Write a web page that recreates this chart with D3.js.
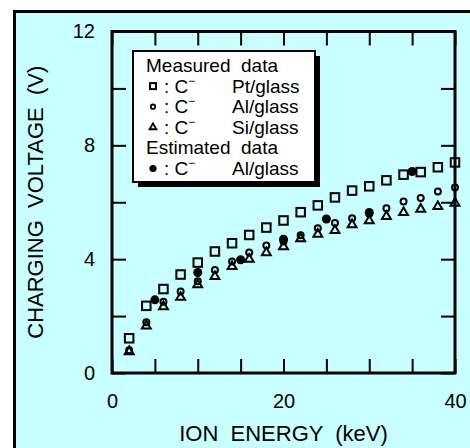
<!DOCTYPE html>
<html>
<head>
<meta charset="utf-8">
<script src="https://cdn.jsdelivr.net/npm/d3@7"></script>
<style>
  body { margin: 0; background: #fff; }
  svg { display: block; }
</style>
</head>
<body>
<div id="chart"></div>
<script>
// measured points share the same energies
const energy = [2, 4, 6, 8, 10, 12, 14, 16, 18, 20, 22, 24, 26, 28, 30, 32, 34, 36, 38, 40];
const ptGlass = [1.22, 2.36, 2.95, 3.46, 3.88, 4.27, 4.56, 4.85, 5.11, 5.36, 5.65, 5.89, 6.17, 6.41, 6.56, 6.77, 6.97, 7.06, 7.23, 7.40];
const alGlass = [0.80, 1.78, 2.50, 2.86, 3.22, 3.62, 3.92, 4.23, 4.48, 4.62, 4.84, 5.09, 5.27, 5.44, 5.60, 5.79, 6.03, 6.15, 6.38, 6.52];
const siGlass = [0.75, 1.65, 2.33, 2.66, 3.10, 3.39, 3.74, 4.00, 4.23, 4.44, 4.72, 4.88, 5.01, 5.21, 5.35, 5.50, 5.64, 5.76, 5.85, 5.97];
// estimated data (Al/glass)
const estEnergy = [5, 10, 15, 20, 25, 30, 35];
const estAl = [2.57, 3.53, 3.98, 4.70, 5.41, 5.64, 7.08];

const xTicks = [0, 5, 10, 15, 20, 25, 30, 35, 40];
const xLabels = [0, 20, 40];
const yTicks = [0, 2, 4, 6, 8, 10, 12];
const yLabels = [0, 4, 8, 12];

const width = 470, height = 448;
const margin = {top: 31.5, right: 15, bottom: 75, left: 112};
const font = "'Liberation Sans', Arial, Helvetica, sans-serif";

const svg = d3.select("#chart").append("svg")
    .attr("width", width)
    .attr("height", height)
    .attr("font-family", font);

// cyan panel with black frame on top and left
svg.append("rect")
    .attr("x", 14.5).attr("y", 11.5)
    .attr("width", width).attr("height", height)
    .attr("fill", "#c8ffff")
    .attr("stroke", "#000")
    .attr("stroke-width", 3);

const x = d3.scaleLinear().domain([0, 40]).range([margin.left, width - margin.right]);
const y = d3.scaleLinear().domain([0, 12]).range([height - margin.bottom, margin.top]);

const tickLen = 14;
function styleAxis(g) {
  g.select(".domain").remove();
  g.selectAll(".tick line").attr("stroke", "#000").attr("stroke-width", 2);
  g.selectAll(".tick text").attr("fill", "#000").attr("font-size", 20).attr("font-family", font);
}

svg.append("g")
    .attr("transform", `translate(0,${y(0)})`)
    .call(d3.axisBottom(x).tickValues(xTicks).tickSize(-tickLen).tickPadding(21)
      .tickFormat(d => xLabels.includes(d) ? d : ""))
    .call(styleAxis);

svg.append("g")
    .attr("transform", `translate(0,${y(12)})`)
    .call(d3.axisTop(x).tickValues(xTicks).tickSize(-tickLen).tickFormat(""))
    .call(styleAxis);

svg.append("g")
    .attr("transform", `translate(${x(0)},0)`)
    .call(d3.axisLeft(y).tickValues(yTicks).tickSize(-tickLen).tickPadding(17)
      .tickFormat(d => yLabels.includes(d) ? d : ""))
    .call(styleAxis);

svg.append("g")
    .attr("transform", `translate(${x(40)},0)`)
    .call(d3.axisRight(y).tickValues(yTicks).tickSize(-tickLen).tickFormat(""))
    .call(styleAxis);

// plot frame
svg.append("rect")
    .attr("x", x(0)).attr("y", y(12))
    .attr("width", x(40) - x(0)).attr("height", y(0) - y(12))
    .attr("fill", "none")
    .attr("stroke", "#000")
    .attr("stroke-width", 3);

// axis titles
svg.append("text")
    .attr("x", (x(0) + x(40)) / 2)
    .attr("y", 441)
    .attr("text-anchor", "middle")
    .attr("font-size", 22)
    .attr("xml:space", "preserve")
    .text("ION  ENERGY  (keV)");

svg.append("text")
    .attr("transform", `translate(43,${(y(0) + y(12)) / 2}) rotate(-90)`)
    .attr("text-anchor", "middle")
    .attr("font-size", 22)
    .attr("xml:space", "preserve")
    .text("CHARGING  VOLTAGE  (V)");

// marks
const pts = (xs, ys) => xs.map((d, i) => [d, ys[i]]);
const sq = 8.5;
const marks = svg.append("g")
    .attr("stroke", "#000")
    .attr("stroke-width", 2);

marks.selectAll(".tri")
  .data(pts(energy, siGlass))
  .join("path")
    .attr("fill", "none")
    .attr("d", d3.symbol(d3.symbolTriangle, 34))
    .attr("transform", d => `translate(${x(d[0])},${y(d[1])})`);

marks.selectAll(".circ")
  .data(pts(energy, alGlass))
  .join("circle")
    .attr("fill", "none")
    .attr("cx", d => x(d[0]))
    .attr("cy", d => y(d[1]))
    .attr("r", 3);

marks.selectAll(".sq")
  .data(pts(energy, ptGlass))
  .join("rect")
    .attr("fill", "none")
    .attr("x", d => x(d[0]) - sq / 2)
    .attr("y", d => y(d[1]) - sq / 2)
    .attr("width", sq)
    .attr("height", sq);

marks.selectAll(".est")
  .data(pts(estEnergy, estAl))
  .join("circle")
    .attr("fill", "#000")
    .attr("stroke", "none")
    .attr("cx", d => x(d[0]))
    .attr("cy", d => y(d[1]))
    .attr("r", 4.5);

// legend
const legendRows = [
  {head: "Measured  data"},
  {sym: "square", label: "Pt/glass"},
  {sym: "circle", label: "Al/glass"},
  {sym: "triangle", label: "Si/glass"},
  {head: "Estimated  data"},
  {sym: "filled", label: "Al/glass"}
];

const lg = svg.append("g");
lg.append("rect")
    .attr("x", 138).attr("y", 56)
    .attr("width", 182).attr("height", 131)
    .attr("fill", "#000");
lg.append("rect")
    .attr("x", 133).attr("y", 51)
    .attr("width", 182).attr("height", 131)
    .attr("fill", "#fff")
    .attr("stroke", "#000")
    .attr("stroke-width", 2);

const fs = 19;
const rowY = i => 72 + i * 20.6;
legendRows.forEach((r, i) => {
  const by = rowY(i);
  if (r.head) {
    lg.append("text")
        .attr("x", 146).attr("y", by)
        .attr("font-size", fs)
        .attr("xml:space", "preserve")
        .text(r.head);
    return;
  }
  const cy = by - 6.5;
  if (r.sym === "square") {
    lg.append("rect").attr("x", 150).attr("y", cy - 3).attr("width", 6).attr("height", 6)
        .attr("fill", "none").attr("stroke", "#000").attr("stroke-width", 2);
  } else if (r.sym === "circle") {
    lg.append("circle").attr("cx", 153).attr("cy", cy).attr("r", 2.2)
        .attr("fill", "none").attr("stroke", "#000").attr("stroke-width", 1.8);
  } else if (r.sym === "triangle") {
    lg.append("path").attr("d", d3.symbol(d3.symbolTriangle, 20))
        .attr("transform", `translate(153,${cy})`)
        .attr("fill", "none").attr("stroke", "#000").attr("stroke-width", 1.8);
  } else {
    lg.append("circle").attr("cx", 153).attr("cy", cy).attr("r", 3.6).attr("fill", "#000");
  }
  const t = lg.append("text")
      .attr("x", 164).attr("y", by)
      .attr("font-size", fs);
  t.append("tspan").text(": C");
  t.append("tspan").attr("dy", -8).attr("font-size", 12).text("\u2212");
  lg.append("text")
      .attr("x", 232).attr("y", by)
      .attr("font-size", fs)
      .text(r.label);
});
</script>
</body>
</html>
